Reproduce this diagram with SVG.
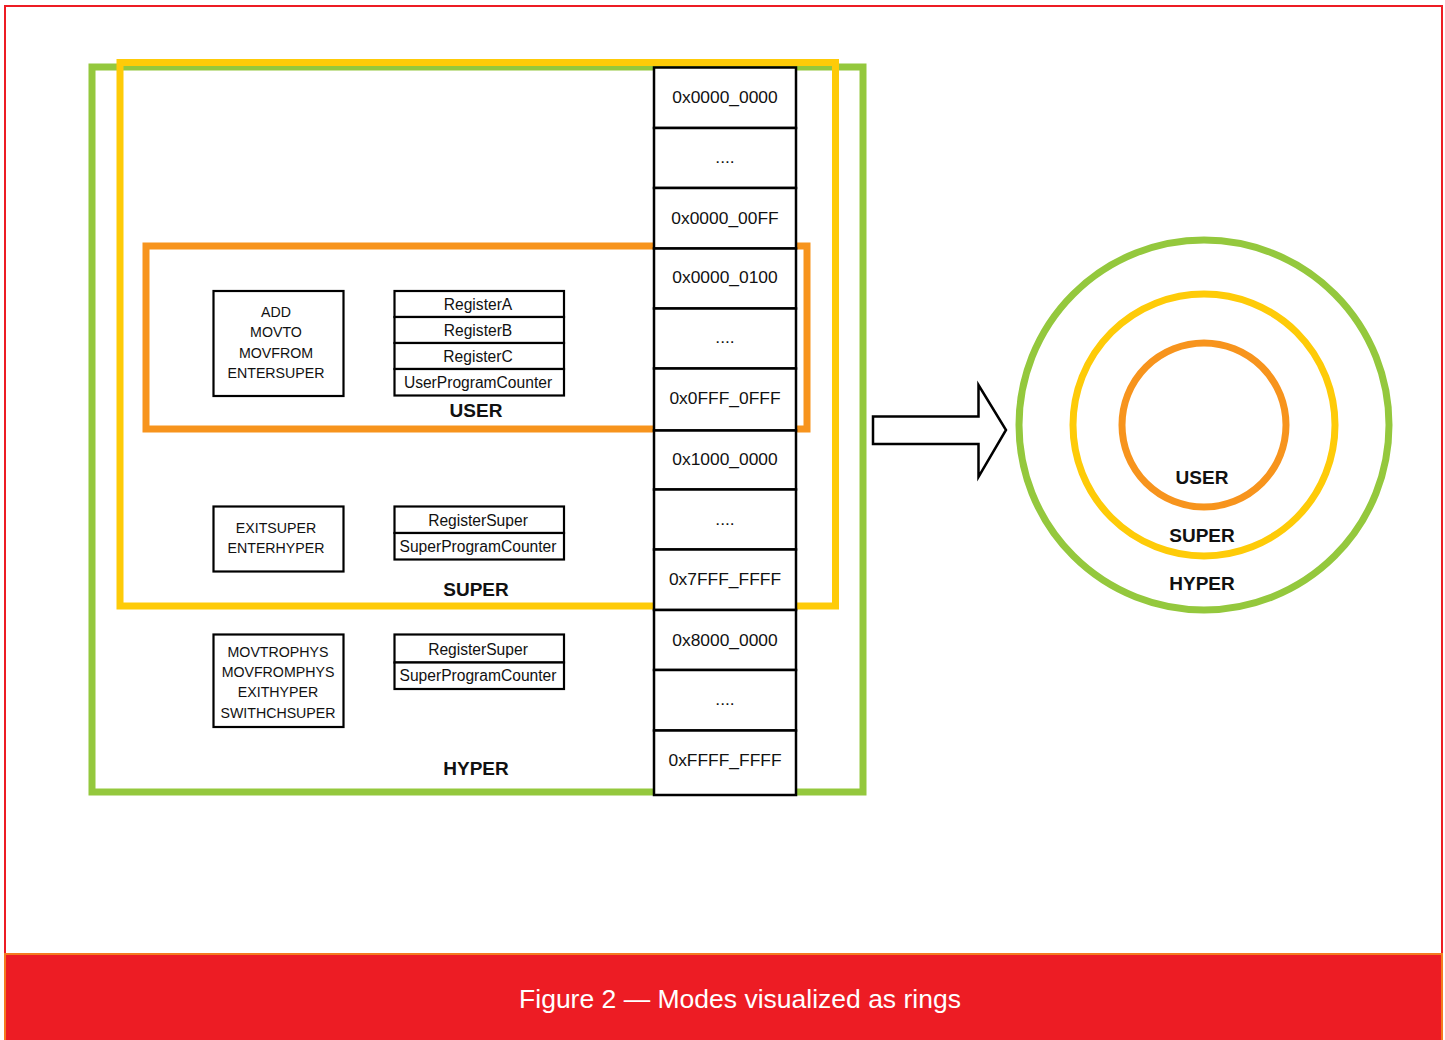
<svg xmlns="http://www.w3.org/2000/svg" width="1445" height="1040" viewBox="0 0 1445 1040">
<style>
.box{fill:#fff;stroke:#000;stroke-width:2.2}
.cell{fill:#fff;stroke:#000;stroke-width:2.5}
.t{font-family:"Liberation Sans",Arial,sans-serif;font-size:15.6px;fill:#111;text-anchor:middle}
.i{font-family:"Liberation Sans",Arial,sans-serif;font-size:14.2px;fill:#111;text-anchor:middle}
.m{font-family:"Liberation Sans",Arial,sans-serif;font-size:17.4px;fill:#111;text-anchor:middle}
.b{font-family:"Liberation Sans",Arial,sans-serif;font-size:19px;font-weight:bold;fill:#111;text-anchor:middle}
.g{fill:none;stroke:#94c83d;stroke-width:7}
.y{fill:none;stroke:#fecb08;stroke-width:7}
.o{fill:none;stroke:#f7941d;stroke-width:7}
</style>
<rect x="0" y="0" width="1445" height="1040" fill="#fff"/>
<rect x="5" y="6" width="1437" height="1040" fill="none" stroke="#ed1c24" stroke-width="2"/>
<rect x="5" y="954" width="1437" height="90" fill="#ed1c24" stroke="#f47b20" stroke-width="2"/>
<text x="740" y="1008" font-family="Liberation Sans,Arial,sans-serif" font-size="26.5" fill="#fff" text-anchor="middle">Figure 2 — Modes visualized as rings</text>

<g id="ring-hyper"><rect class="g" x="92" y="67" width="771" height="725"/></g>
<g id="ring-super"><rect class="y" x="120" y="62.5" width="715.5" height="543.5"/></g>
<g id="ring-user"><rect class="o" x="146" y="246" width="661" height="183"/></g>

<g id="user-instr">
<rect class="box" x="213.5" y="291" width="130" height="105"/>
<text class="i" x="276" y="317">ADD</text>
<text class="i" x="276" y="337">MOVTO</text>
<text class="i" x="276" y="358">MOVFROM</text>
<text class="i" x="276" y="378">ENTERSUPER</text>
</g>
<g id="user-regs">
<rect class="box" x="394.5" y="291" width="169.5" height="26"/>
<rect class="box" x="394.5" y="317" width="169.5" height="26"/>
<rect class="box" x="394.5" y="343" width="169.5" height="26"/>
<rect class="box" x="394.5" y="369" width="169.5" height="26.5"/>
<text class="t" x="478" y="309.5">RegisterA</text>
<text class="t" x="478" y="336">RegisterB</text>
<text class="t" x="478" y="361.5">RegisterC</text>
<text class="t" x="478" y="387.5">UserProgramCounter</text>
</g>
<text class="b" x="476" y="417">USER</text>

<g id="super-instr">
<rect class="box" x="213.5" y="506.5" width="130" height="65"/>
<text class="i" x="276" y="533">EXITSUPER</text>
<text class="i" x="276" y="553">ENTERHYPER</text>
</g>
<g id="super-regs">
<rect class="box" x="394.5" y="506.5" width="169.5" height="26.5"/>
<rect class="box" x="394.5" y="533" width="169.5" height="26.5"/>
<text class="t" x="478" y="525.5">RegisterSuper</text>
<text class="t" x="478" y="552">SuperProgramCounter</text>
</g>
<text class="b" x="476" y="596">SUPER</text>

<g id="hyper-instr">
<rect class="box" x="213.5" y="634.5" width="130" height="92.5"/>
<text class="i" x="278" y="657">MOVTROPHYS</text>
<text class="i" x="278" y="677">MOVFROMPHYS</text>
<text class="i" x="278" y="697">EXITHYPER</text>
<text class="i" x="278" y="718">SWITHCHSUPER</text>
</g>
<g id="hyper-regs">
<rect class="box" x="394.5" y="634.5" width="169.5" height="28"/>
<rect class="box" x="394.5" y="662.5" width="169.5" height="26.5"/>
<text class="t" x="478" y="654.5">RegisterSuper</text>
<text class="t" x="478" y="681">SuperProgramCounter</text>
</g>
<text class="b" x="476" y="775">HYPER</text>

<g id="memory">
<rect class="cell" x="654" y="67.5" width="142" height="60.5"/>
<rect class="cell" x="654" y="128" width="142" height="60"/>
<rect class="cell" x="654" y="188" width="142" height="60.5"/>
<rect class="cell" x="654" y="248.5" width="142" height="60"/>
<rect class="cell" x="654" y="308.5" width="142" height="60"/>
<rect class="cell" x="654" y="368.5" width="142" height="62"/>
<rect class="cell" x="654" y="430.5" width="142" height="59"/>
<rect class="cell" x="654" y="489.5" width="142" height="60"/>
<rect class="cell" x="654" y="549.5" width="142" height="60.5"/>
<rect class="cell" x="654" y="610" width="142" height="60"/>
<rect class="cell" x="654" y="670" width="142" height="60.5"/>
<rect class="cell" x="654" y="730.5" width="142" height="64.5"/>
<text class="m" x="725" y="103">0x0000_0000</text>
<text class="m" x="725" y="163">....</text>
<text class="m" x="725" y="224">0x0000_00FF</text>
<text class="m" x="725" y="283">0x0000_0100</text>
<text class="m" x="725" y="343">....</text>
<text class="m" x="725" y="404">0x0FFF_0FFF</text>
<text class="m" x="725" y="465">0x1000_0000</text>
<text class="m" x="725" y="525">....</text>
<text class="m" x="725" y="585">0x7FFF_FFFF</text>
<text class="m" x="725" y="646">0x8000_0000</text>
<text class="m" x="725" y="705">....</text>
<text class="m" x="725" y="766">0xFFFF_FFFF</text>
</g>

<g id="connectors">
<polygon points="873,416.5 978.5,416.5 978.5,385 1006,430 978.5,477 978.5,444 873,444" fill="#fff" stroke="#000" stroke-width="2.5" stroke-linejoin="miter"/>
</g>

<g id="rings">
<circle cx="1204" cy="425" r="185" fill="none" stroke="#94c83d" stroke-width="7"/>
<circle cx="1204" cy="425" r="131" fill="none" stroke="#fecb08" stroke-width="7"/>
<circle cx="1204" cy="425" r="82" fill="none" stroke="#f7941d" stroke-width="7"/>
<text class="b" x="1202" y="484" font-size="20">USER</text>
<text class="b" x="1202" y="542" font-size="20">SUPER</text>
<text class="b" x="1202" y="590" font-size="20">HYPER</text>
</g>
</svg>
